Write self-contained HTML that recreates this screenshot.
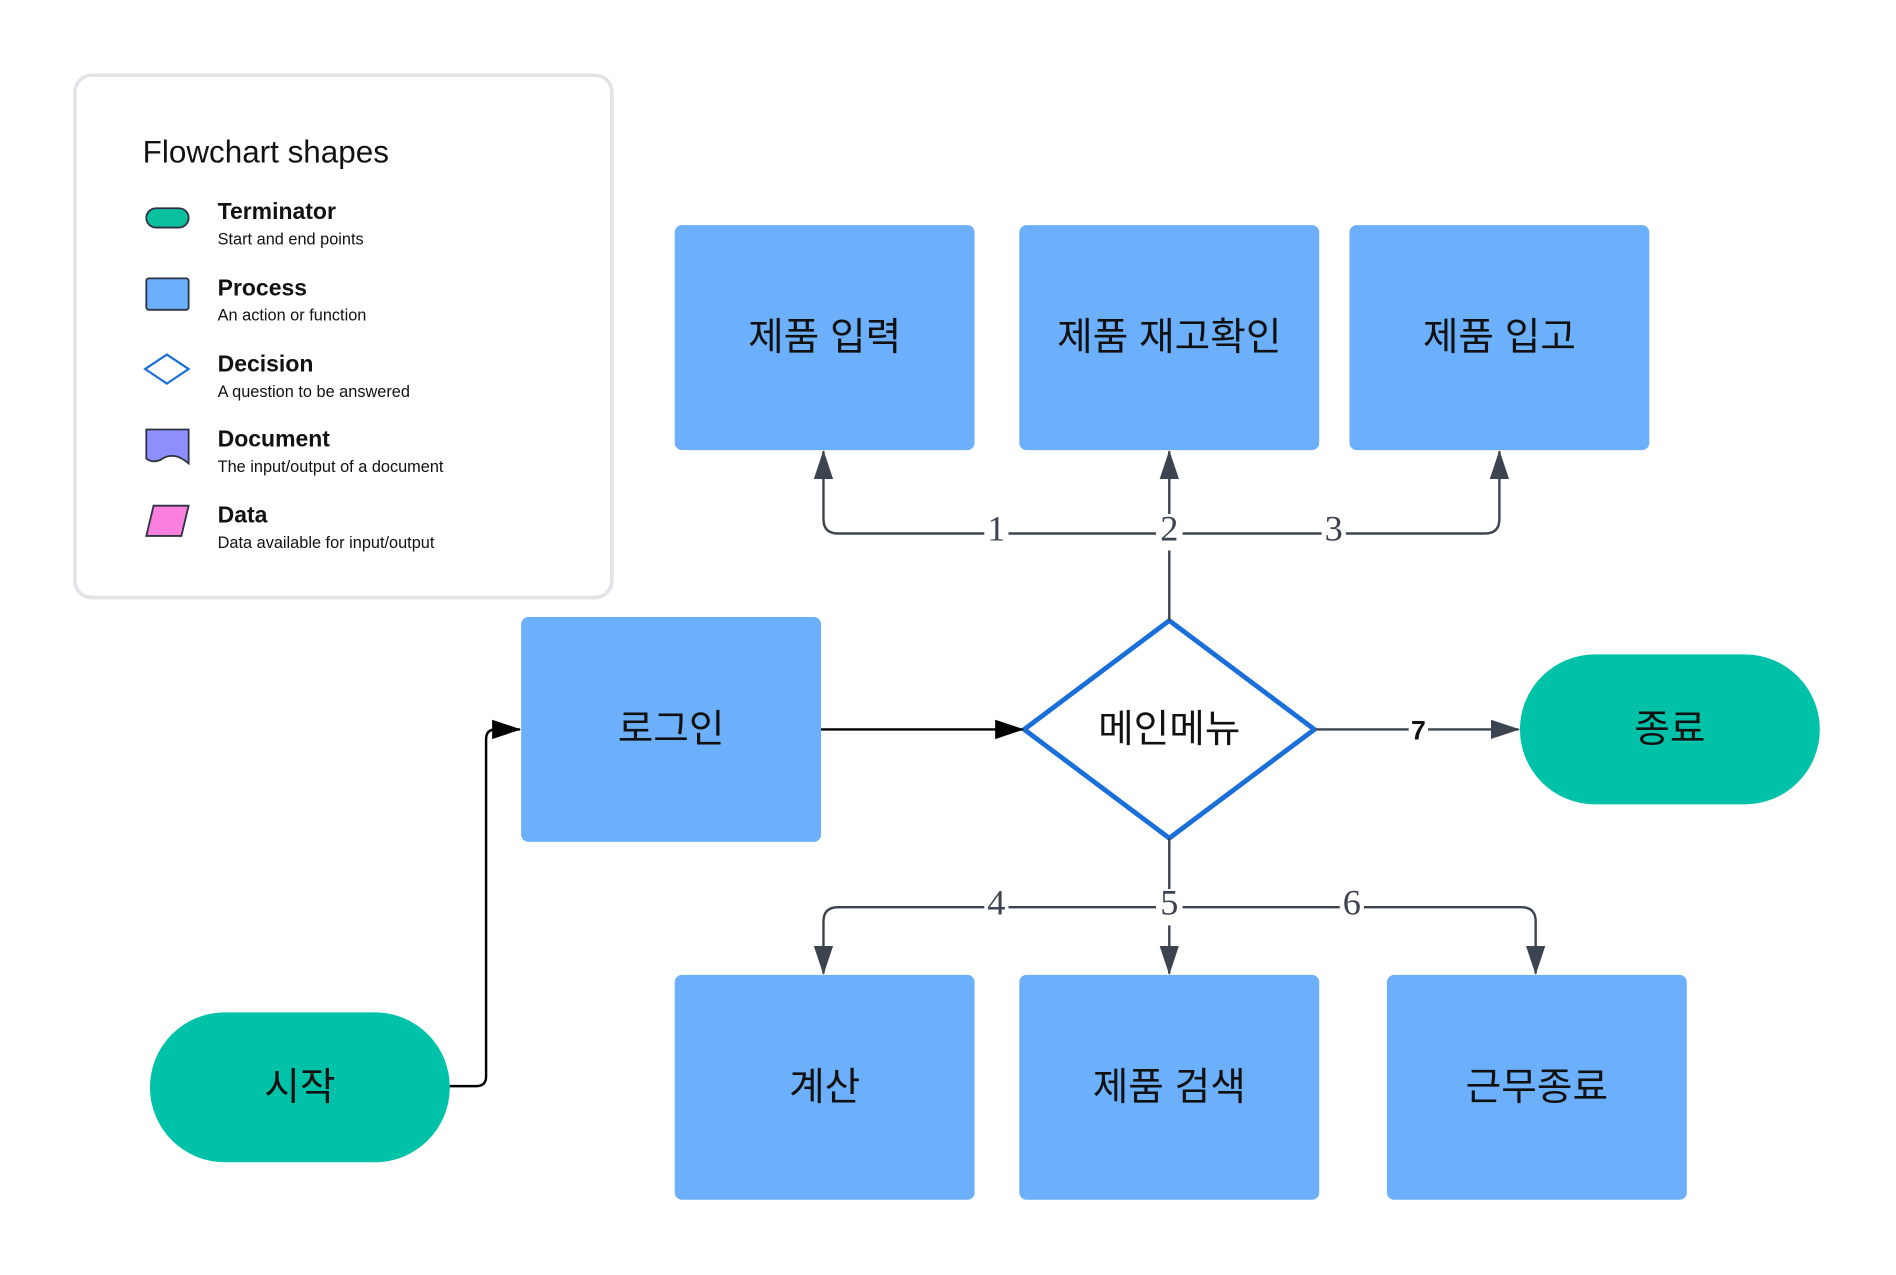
<!DOCTYPE html>
<html><head><meta charset="utf-8"><style>
html,body{margin:0;padding:0;background:#fff;}
svg{display:block;}
.k{font-family:"Liberation Sans","Noto Sans CJK KR",sans-serif;font-size:32px;fill:#111;text-anchor:middle;dominant-baseline:central;}
.n{font-family:"Liberation Serif",serif;font-size:30px;fill:#3d4451;text-anchor:middle;dominant-baseline:central;}
.lt{font-family:"Liberation Sans",sans-serif;fill:#111;}
</style></head><body>
<svg width="1896" height="1275" viewBox="0 0 1568 1054" xmlns="http://www.w3.org/2000/svg">
<defs>
<marker id="a" markerWidth="24" markerHeight="18" refX="23" refY="9" orient="auto" markerUnits="userSpaceOnUse" viewBox="0 0 24 18"><path d="M0,1 L24,9 L0,17 Z" fill="#3d4451"/></marker>
<marker id="b" markerWidth="24" markerHeight="18" refX="23" refY="9" orient="auto" markerUnits="userSpaceOnUse" viewBox="0 0 24 18"><path d="M0,1 L24,9 L0,17 Z" fill="#000"/></marker>
</defs>
<!-- legend -->
<rect x="62" y="62" width="444" height="432" rx="14" fill="#fff" stroke="#e2e3e6" stroke-width="3"/>
<text class="lt" x="118" y="134" font-size="26">Flowchart shapes</text>
<rect x="121" y="172" width="35" height="16" rx="8" fill="#0bbf9f" stroke="#2d3340" stroke-width="1.5"/>
<rect x="121" y="230" width="35" height="26" rx="2" fill="#6cb0fc" stroke="#2d3340" stroke-width="1.5"/>
<path d="M138,293 L156,305 L138,317 L120,305 Z" fill="#fff" stroke="#1a6fdb" stroke-width="1.8"/>
<path d="M121,355 H156 V383 Q150,378 145,377 Q138,376 133,380 Q126,383 121,379 Z" fill="#8d8ffc" stroke="#2d3340" stroke-width="1.5"/>
<path d="M127,418 H156 L150,443 H121 Z" fill="#fb7fdd" stroke="#2d3340" stroke-width="1.5"/>
<g class="lt">
<text x="180" y="181" font-size="19" font-weight="bold">Terminator</text>
<text x="180" y="202" font-size="13.5">Start and end points</text>
<text x="180" y="244" font-size="19" font-weight="bold">Process</text>
<text x="180" y="265" font-size="13.5">An action or function</text>
<text x="180" y="307" font-size="19" font-weight="bold">Decision</text>
<text x="180" y="328" font-size="13.5">A question to be answered</text>
<text x="180" y="369" font-size="19" font-weight="bold">Document</text>
<text x="180" y="390" font-size="13.5">The input/output of a document</text>
<text x="180" y="432" font-size="19" font-weight="bold">Data</text>
<text x="180" y="453" font-size="13.5">Data available for input/output</text>
</g>
<!-- boxes -->
<g fill="#6cb0fc">
<rect x="558" y="186" width="248" height="186" rx="6"/>
<rect x="843" y="186" width="248" height="186" rx="6"/>
<rect x="1116" y="186" width="248" height="186" rx="6"/>
<rect x="431" y="510" width="248" height="186" rx="6"/>
<rect x="558" y="806" width="248" height="186" rx="6"/>
<rect x="843" y="806" width="248" height="186" rx="6"/>
<rect x="1147" y="806" width="248" height="186" rx="6"/>
</g>
<rect x="1257" y="541" width="248" height="124" rx="62" fill="#00c2a8"/>
<rect x="124" y="837" width="248" height="124" rx="62" fill="#00c2a8"/>
<path d="M967,513 L1087,603 L967,693 L847,603 Z" fill="#fff" stroke="#1a6fdb" stroke-width="4" stroke-linejoin="round"/>
<text class="k" x="682" y="279">제품 입력</text>
<text class="k" x="967" y="279">제품 재고확인</text>
<text class="k" x="1240" y="279">제품 입고</text>
<text class="k" x="555" y="603">로그인</text>
<text class="k" x="967" y="603">메인메뉴</text>
<text class="k" x="1381" y="603">종료</text>
<text class="k" x="248" y="899">시작</text>
<text class="k" x="682" y="899">계산</text>
<text class="k" x="967" y="899">제품 검색</text>
<text class="k" x="1271" y="899">근무종료</text>
<!-- connectors -->
<g fill="none" stroke="#3d4451" stroke-width="2">
<path d="M967,513 V455"/>
<path d="M967,425 V373" marker-end="url(#a)"/>
<path d="M956,441 H693 Q681,441 681,429 V373" marker-end="url(#a)"/>
<path d="M978,441 H1228 Q1240,441 1240,429 V373" marker-end="url(#a)"/>
<path d="M967,693 V735"/>
<path d="M967,765 V805" marker-end="url(#a)"/>
<path d="M956,750 H693 Q681,750 681,762 V805" marker-end="url(#a)"/>
<path d="M978,750 H1258 Q1270,750 1270,762 V805" marker-end="url(#a)"/>
<path d="M1088,603 H1256" marker-end="url(#a)"/>
<path d="M679,603 H846" stroke="#000" marker-end="url(#b)"/>
<path d="M372,898 H394 Q402,898 402,890 V611 Q402,603 410,603 H430" stroke="#000" marker-end="url(#b)"/>
</g>
<g fill="#fff">
<rect x="814" y="425" width="20" height="30"/><rect x="957" y="425" width="20" height="30"/><rect x="1093" y="425" width="20" height="30"/>
<rect x="814" y="735" width="20" height="30"/><rect x="957" y="735" width="20" height="30"/><rect x="1108" y="735" width="20" height="30"/>
<rect x="1165" y="590" width="16" height="26"/>
</g>
<text class="n" x="824" y="437">1</text>
<text class="n" x="967" y="437">2</text>
<text class="n" x="1103" y="437">3</text>
<text class="n" x="824" y="746">4</text>
<text class="n" x="967" y="746">5</text>
<text class="n" x="1118" y="746">6</text>
<text x="1173" y="604" font-family="Liberation Sans,sans-serif" font-weight="bold" font-size="22" text-anchor="middle" dominant-baseline="central" fill="#111">7</text>
</svg>
</body></html>
